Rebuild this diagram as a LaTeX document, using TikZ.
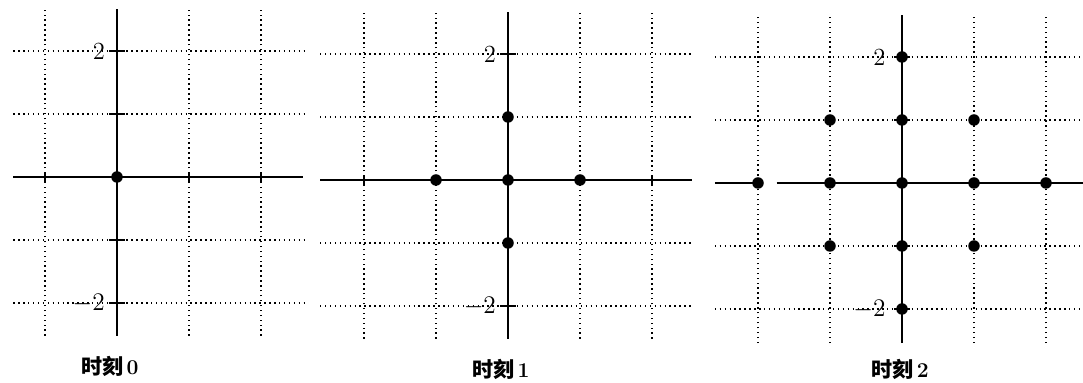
\documentclass[tikz,border=0pt]{standalone}
\usepackage{fontspec}
\newfontfamily\cjk{Noto Sans CJK SC}

\begin{document}
\begin{tikzpicture}[
  grid/.style={dotted, line width=0.8pt},
  axis/.style={line width=1.4pt},
  tickmark/.style={line width=1.2pt},
  site/.style={circle, fill, inner sep=0pt, minimum size=2.3mm},
  num/.style={font=\fontsize{14}{16}\selectfont, inner sep=1pt, anchor=east},
  caption/.style={font=\fontsize{12}{14}\selectfont\bfseries, inner sep=0pt}
]
\useasboundingbox (0,0) rectangle (21.66,7.66);

% time 0
\begin{scope}[shift={(2.34cm,4.12cm)}, x=1.44cm, y=1.26cm]
  \foreach \i in {-1,1,2} \draw[grid] (\i,-2.52) -- (\i,2.66);
  \foreach \j in {-2,-1,1,2} \draw[grid] (-1.44,\j) -- (2.61,\j);
  \draw[axis] (-1.44,0) -- (2.58,0);
  \draw[axis] (0,-2.52) -- (0,2.66);
  \foreach \j in {-2,-1,1,2} \draw[tickmark] (-0.11,\j) -- (0.11,\j);
  \foreach \i in {-1,1,2} \draw[tickmark] (\i,-0.08) -- (\i,0.08);
  \node[site] (a00) at (0,0) {};
  \node[num] (a-top) at (-0.14,2) {2};
  \node[num] (a-bot) at (-0.14,-2) {$-2$};
  \node[caption] (a-cap) at (-0.1,-3.0) {{\cjk 时刻}\,{\large 0}};
\end{scope}

% time 1
\begin{scope}[shift={(10.16cm,4.06cm)}, x=1.44cm, y=1.26cm]
  \foreach \i in {-2,-1,1,2} \draw[grid] (\i,-2.52) -- (\i,2.66);
  \foreach \j in {-2,-1,1,2} \draw[grid] (-2.61,\j) -- (2.56,\j);
  \draw[axis] (-2.61,0) -- (2.56,0);
  \draw[axis] (0,-2.52) -- (0,2.66);
  \foreach \j in {-2,2} \draw[tickmark] (-0.11,\j) -- (0.11,\j);
  \foreach \i in {-2,2} \draw[tickmark] (\i,-0.08) -- (\i,0.08);
  \foreach \x/\y/\n in {0/1/t, -1/0/l, 0/0/c, 1/0/r, 0/-1/b}
    \node[site] (b\n) at (\x,\y) {};
  \node[num] (b-top) at (-0.14,2) {2};
  \node[num] (b-bot) at (-0.14,-2) {$-2$};
  \node[caption] (b-cap) at (-0.1,-3.0) {{\cjk 时刻}\,{\large 1}};
\end{scope}

% time 2
\begin{scope}[shift={(18.04cm,4.0cm)}, x=1.44cm, y=1.26cm]
  \foreach \i in {-2,-1,1,2} \draw[grid] (\i,-2.54) -- (\i,2.67);
  \foreach \j in {-2,-1,1,2} \draw[grid] (-2.6,\j) -- (2.51,\j);
  \draw[axis] (-2.6,0) -- (-1.93,0);
  \draw[axis] (-1.74,0) -- (2.51,0);
  \draw[axis] (0,-2.54) -- (0,2.67);
  \foreach \j in {-2,-1,1,2} \draw[tickmark] (-0.11,\j) -- (0.11,\j);
  \foreach \x/\y/\n in {0/2/1, -1/1/2, 0/1/3, 1/1/4, -2/0/5, -1/0/6, 0/0/7,
                        1/0/8, 2/0/9, -1/-1/10, 0/-1/11, 1/-1/12, 0/-2/13}
    \node[site] (c\n) at (\x,\y) {};
  \node[num] (c-top) at (-0.2,2) {2};
  \node[num] (c-bot) at (-0.2,-2) {$-2$};
  \node[caption] (c-cap) at (-0.03,-2.96) {{\cjk 时刻}\,{\large 2}};
\end{scope}
\end{tikzpicture}
\end{document}
